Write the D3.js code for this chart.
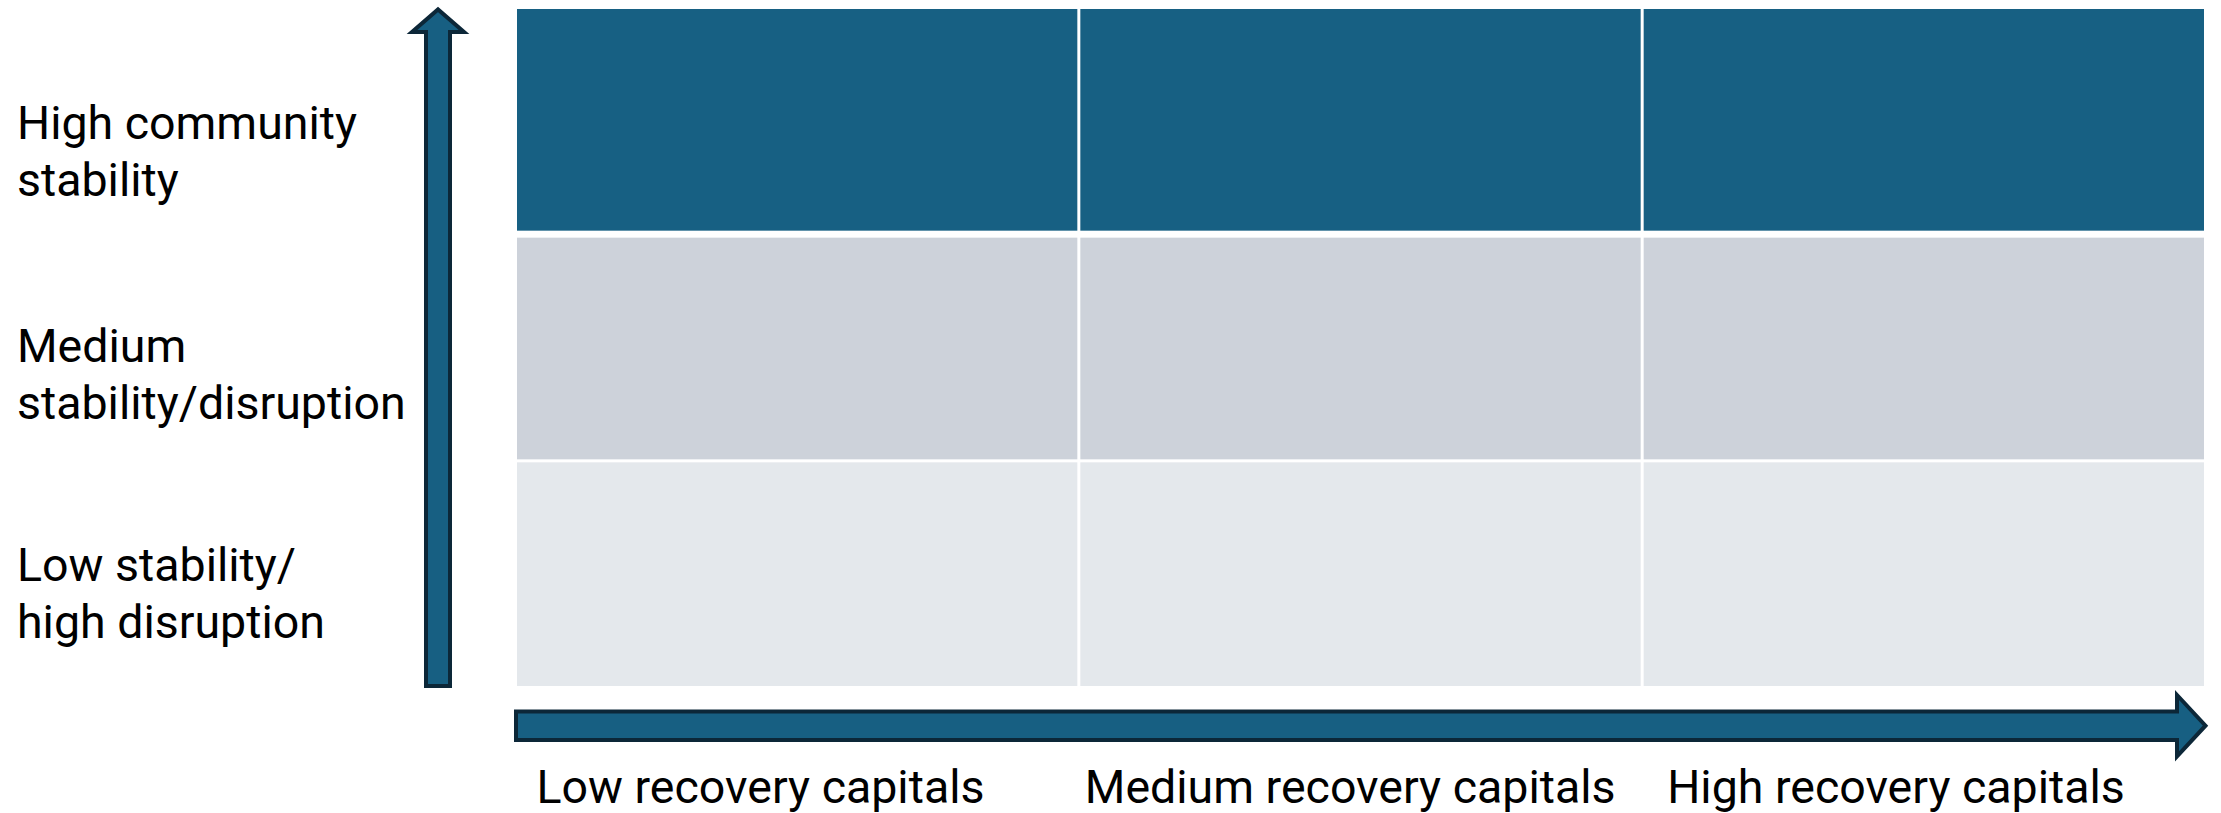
<!DOCTYPE html>
<html>
<head>
<meta charset="utf-8">
<script src="https://cdn.jsdelivr.net/npm/d3@7"></script>
<style>
  html, body { margin: 0; padding: 0; background: #ffffff; }
  svg { display: block; }
  text { font-family: Roboto, "Open Sans", sans-serif; fill: #000; }
</style>
</head>
<body>
<svg id="chart" width="2221" height="813"></svg>
<script>
// ---- data ----
const colLevels = ["Low", "Medium", "High"];
const rowLevels = ["High", "Medium", "Low"];
const colLabels = ["Low recovery capitals", "Medium recovery capitals", "High recovery capitals"];
const rowLabelLines = [
  ["High community", "stability"],
  ["Medium", "stability/disruption"],
  ["Low stability/", "high disruption"]
];
const cells = [];
rowLevels.forEach(r => colLevels.forEach(c => cells.push({ row: r, col: c })));

// ---- styles / layout ----
const rowFill = { High: "#176083", Medium: "#CDD2DA", Low: "#E4E8EC" };
const rowInset = { High: [1.5, 3.5], Medium: [3.5, 1.5], Low: [1.5, 1.5] };
const colInset = 1.5;
const arrowFill = "#175F82";
const arrowStroke = "#0C2738";
const fontSize = 46.5;
const lineGap = 57;

const svg = d3.select("#chart");

const x = d3.scaleBand().domain(colLevels).range([515.5, 2205.5]);
const y = d3.scaleBand().domain(rowLevels).range([7.5, 687.5]);

// grid cells
svg.append("g").selectAll("rect").data(cells).join("rect")
  .attr("x", d => x(d.col) + colInset)
  .attr("y", d => y(d.row) + rowInset[d.row][0])
  .attr("width", x.bandwidth() - 2 * colInset)
  .attr("height", d => y.bandwidth() - rowInset[d.row][0] - rowInset[d.row][1])
  .attr("fill", d => rowFill[d.row]);

// vertical arrow (y axis)
const vx = 438, vHalf = 12, vHead = 26, vHeadLen = 22.5;
const vTop = y.range()[0] + 2, vBot = y.range()[1] - 1.5;
const vPath = d3.path();
vPath.moveTo(vx - vHalf, vBot);
vPath.lineTo(vx - vHalf, vTop + vHeadLen);
vPath.lineTo(vx - vHead, vTop + vHeadLen);
vPath.lineTo(vx, vTop);
vPath.lineTo(vx + vHead, vTop + vHeadLen);
vPath.lineTo(vx + vHalf, vTop + vHeadLen);
vPath.lineTo(vx + vHalf, vBot);
vPath.closePath();
svg.append("path").attr("d", vPath.toString())
  .attr("fill", arrowFill).attr("stroke", arrowStroke)
  .attr("stroke-width", 4).attr("stroke-linejoin", "miter").attr("stroke-miterlimit", 10);

// horizontal arrow (x axis)
const hy = 725.7, hHalf = 14.2, hHead = 30.7, hHeadLen = 28.5;
const hLeft = x.range()[0] + 0.5, hRight = x.range()[1];
const hPath = d3.path();
hPath.moveTo(hLeft, hy - hHalf);
hPath.lineTo(hRight - hHeadLen, hy - hHalf);
hPath.lineTo(hRight - hHeadLen, hy - hHead);
hPath.lineTo(hRight, hy);
hPath.lineTo(hRight - hHeadLen, hy + hHead);
hPath.lineTo(hRight - hHeadLen, hy + hHalf);
hPath.lineTo(hLeft, hy + hHalf);
hPath.closePath();
svg.append("path").attr("d", hPath.toString())
  .attr("fill", arrowFill).attr("stroke", arrowStroke)
  .attr("stroke-width", 4).attr("stroke-linejoin", "miter").attr("stroke-miterlimit", 10);

// column labels
const colLabelOffset = [21, 6, 25];
svg.append("g").selectAll("text").data(colLabels).join("text")
  .attr("x", (d, i) => x(colLevels[i]) + colLabelOffset[i])
  .attr("y", 803)
  .attr("font-size", fontSize)
  .text(d => d);

// row labels
const rowLabelBaseline = [18, 14, 7];
const rl = svg.append("g");
rowLabelLines.forEach((lines, i) => {
  const t = rl.append("text")
    .attr("x", 17)
    .attr("y", y(rowLevels[i]) + y.bandwidth() / 2 + rowLabelBaseline[i])
    .attr("font-size", fontSize);
  lines.forEach((ln, j) => {
    t.append("tspan").attr("x", 17).attr("dy", j === 0 ? 0 : lineGap).text(ln);
  });
});
</script>
</body>
</html>
